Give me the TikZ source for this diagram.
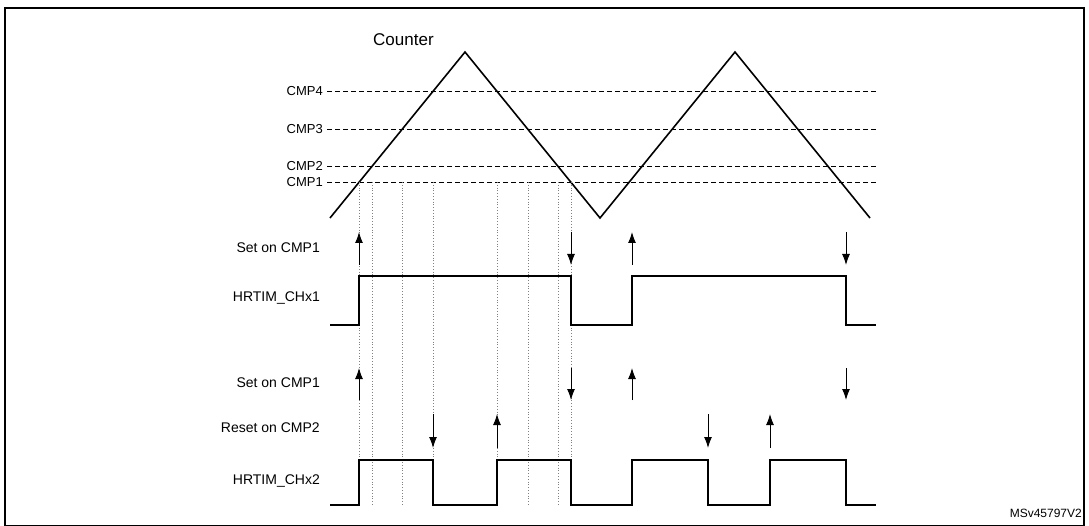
\documentclass[tikz,border=0pt]{standalone}
\usepackage{fontspec}
\setmainfont{Liberation Sans}
\usetikzlibrary{arrows.meta}
\begin{document}
\begin{tikzpicture}[x=1pt, y=-1pt, font=\fontsize{14}{16}\selectfont,
    lbl/.style={anchor=east, inner sep=0pt},
    sig/.style={line width=1.8pt},
    evt/.style={-{Latex[length=11pt,width=8pt]}, line width=1pt}]
    \useasboundingbox (0,0) rectangle (1089,526);
    \draw[line width=1.5pt] (5,8) rectangle (1084,526);
    \node[anchor=west, inner sep=0pt, font=\fontsize{17}{19}\selectfont] (cnt) at (373,40) {Counter};

    % compare levels
    \foreach \n/\y in {4/91, 3/129, 2/166, 1/182} {
        \node[lbl, font=\fontsize{13}{15}\selectfont] (cmp\n) at (323,\y) {CMP\n};
        \coordinate (cmpend\n) at (876,\y);
        \draw[dash pattern=on 5pt off 3pt, line width=0.9pt] (cmp\n.east) ++(4,0) -- (cmpend\n);
    }

    % counter
    \draw[line width=1.6pt] (330,218) -- (465,52) -- (600,218) -- (735,52) -- (870,218);

    % crossings
    \foreach \x in {359,372,402,433,497,528,558,571} {
        \coordinate (top\x) at (\x,182);
        \coordinate (bot\x) at (\x,505);
        \draw[dotted, line width=0.8pt, gray] (top\x) -- (bot\x);
    }

    % labels
    \node[lbl] (set1) at (320,248) {Set on CMP1};
    \node[lbl] (ch1) at (320,298) {HRTIM\_CHx1};
    \node[lbl] (set2) at (320,383) {Set on CMP1};
    \node[lbl] (rst2) at (320,428) {Reset on CMP2};
    \node[lbl] (ch2) at (320,481) {HRTIM\_CHx2};

    % events
    \foreach \x/\d in {359/1,571/0,632/1,846/0} {
        \ifnum\d=1
            \draw[evt] (\x,265) -- (\x,232);
            \draw[evt] (\x,400) -- (\x,368);
        \else
            \draw[evt] (\x,232) -- (\x,265);
            \draw[evt] (\x,368) -- (\x,400);
        \fi
    }
    \foreach \x/\d in {433/0,497/1,708/0,770/1} {
        \ifnum\d=1
            \draw[evt] (\x,448) -- (\x,414);
        \else
            \draw[evt] (\x,414) -- (\x,448);
        \fi
    }

    % outputs
    \draw[sig] (330,325) -- (359,325) -- (359,276) -- (571,276) -- (571,325)
        -- (632,325) -- (632,276) -- (846,276) -- (846,325) -- (876,325);
    \draw[sig] (330,505) -- (359,505) -- (359,460) -- (433,460) -- (433,505)
        -- (497,505) -- (497,460) -- (571,460) -- (571,505) -- (632,505)
        -- (632,460) -- (708,460) -- (708,505) -- (770,505) -- (770,460)
        -- (846,460) -- (846,505) -- (876,505);

    \node[anchor=east, inner sep=0pt, font=\fontsize{12}{14}\selectfont] (ref) at (1082,513) {MSv45797V2};
\end{tikzpicture}
\end{document}
